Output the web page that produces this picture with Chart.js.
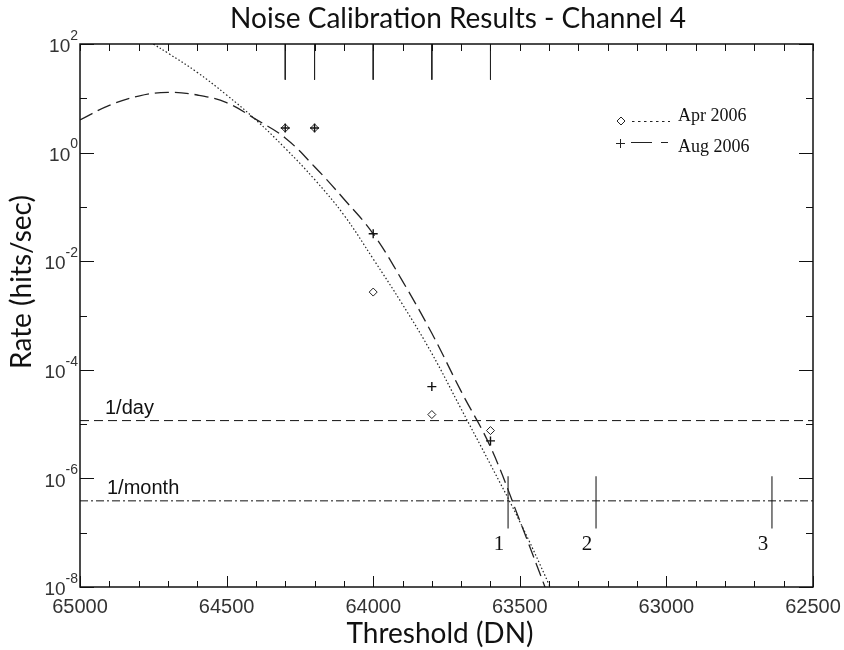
<!DOCTYPE html>
<html>
<head>
<meta charset="utf-8">
<script src="https://cdn.jsdelivr.net/npm/chart.js@4.4.1/dist/chart.umd.min.js"></script>
<style>
  html, body { margin: 0; padding: 0; background: #fff; }
</style>
</head>
<body>
<canvas id="noise" width="844" height="650"></canvas>
<script>
// measured thresholds and noise rates
const thresholds = [64300, 64200, 64000, 63800, 63600];
const aprRate = [2.84, 2.84, 2.7e-3, 1.5e-5, 7.6e-6];
const augRate = [2.84, 2.84, 3.2e-2, 4.9e-5, 4.9e-6];

// fitted curves
const aprFitX = [64750, 64700, 64600, 64500, 64400, 64300, 64200, 64100, 64000, 63900, 63800, 63700, 63600, 63500, 63400, 63350];
const aprFitRate = [100, 68, 30, 11.5, 4.0, 1.2, 0.32, 0.071, 0.011, 1.6e-3, 2.0e-4, 1.9e-5, 1.8e-6, 1.6e-7, 1.1e-8, 2.5e-9];
const augFitX = [65000, 64900, 64800, 64700, 64600, 64500, 64400, 64300, 64200, 64100, 64000, 63900, 63800, 63700, 63600, 63500, 63400];
const augFitRate = [4.0, 7.4, 11.0, 12.9, 11.5, 8.3, 4.1, 1.86, 0.55, 0.14, 0.032, 4.3e-3, 4.7e-4, 4.0e-5, 3.8e-6, 1.66e-7, 6.3e-9];

// reference levels
const perDay = 1.16e-5;
const perMonth = 3.86e-7;

// numbered markers
const markerX = [63540, 63240, 62640];
const markerLabels = ['1', '2', '3'];
const markerLow = 1.2e-7;
const markerHigh = 1.1e-6;

// rug marks at the top
const rugTop = 100;
const rugBottom = 22;

// axis ticks
const xTicks = [65000, 64500, 64000, 63500, 63000, 62500];
const yExponents = [2, 0, -2, -4, -6, -8];

function pairs(xs, ys) {
    return xs.map(function (v, i) { return { x: v, y: ys[i] }; });
}

function segments(xs, lo, hi) {
    const out = [];
    xs.forEach(function (v) {
        out.push({ x: v, y: hi }, { x: v, y: lo }, { x: v, y: null });
    });
    return out;
}

function line(ctx, x1, y1, x2, y2) {
    ctx.beginPath();
    ctx.moveTo(x1, y1);
    ctx.lineTo(x2, y2);
    ctx.stroke();
}

const decor = {
    id: 'decor',
    beforeDraw(chart) {
        const ctx = chart.ctx;
        ctx.save();
        ctx.fillStyle = '#fff';
        ctx.fillRect(0, 0, chart.width, chart.height);
        ctx.restore();
    },
    afterDraw(chart) {
        const ctx = chart.ctx;
        const a = chart.chartArea;
        const x = chart.scales.x, y = chart.scales.y;
        ctx.save();
        ctx.strokeStyle = '#111';
        ctx.lineWidth = 1;
        ctx.setLineDash([]);

        // x ticks, inward, top and bottom
        for (let v = 62500; v <= 65000; v += 100) {
            const px = Math.round(x.getPixelForValue(v)) + 0.5;
            line(ctx, px, a.bottom, px, a.bottom - (v % 500 === 0 ? 11 : 6));
            line(ctx, px, a.top, px, a.top + 7);
        }
        // y ticks, inward, left and right
        for (let e = -8; e <= 2; e++) {
            const py = Math.round(y.getPixelForValue(Math.pow(10, e))) + 0.5;
            const len = e % 2 === 0 ? 14 : 7;
            line(ctx, a.left, py, a.left + len, py);
            line(ctx, a.right, py, a.right - len, py);
        }
        // frame
        ctx.lineWidth = 1.5;
        ctx.strokeRect(a.left, a.top, a.right - a.left, a.bottom - a.top);

        // x tick labels
        ctx.fillStyle = '#333';
        ctx.font = '20px "Liberation Sans"';
        ctx.textAlign = 'center';
        ctx.textBaseline = 'top';
        xTicks.forEach(function (v) {
            ctx.fillText(String(v), x.getPixelForValue(v), a.bottom + 10);
        });
        // y tick labels 10^n, right edge near the axis
        yExponents.forEach(function (e) {
            const py = y.getPixelForValue(Math.pow(10, e));
            const sup = e < 0 ? '-' + (-e) : String(e);
            ctx.font = '14px "Liberation Sans"';
            const w = ctx.measureText(sup).width;
            const right = a.left - 2;
            ctx.textAlign = 'left';
            ctx.textBaseline = 'middle';
            ctx.fillText(sup, right - w, py - 8);
            ctx.font = '19px "Liberation Sans"';
            ctx.textAlign = 'right';
            ctx.fillText('10', right - w, py + 3);
        });

        // titles
        ctx.fillStyle = '#111';
        ctx.textAlign = 'center';
        ctx.textBaseline = 'middle';
        ctx.font = '28px Lato';
        ctx.fillText('Noise Calibration Results - Channel 4', 458, 19);
        ctx.fillText('Threshold (DN)', 440, 634);
        ctx.save();
        ctx.translate(22, 282);
        ctx.rotate(-Math.PI / 2);
        ctx.fillText('Rate (hits/sec)', 0, 0);
        ctx.restore();

        // reference level labels
        ctx.font = '20px "Liberation Sans"';
        ctx.textAlign = 'left';
        ctx.textBaseline = 'alphabetic';
        ctx.fillText('1/day', 105, y.getPixelForValue(perDay) - 7);
        ctx.fillText('1/month', 107, y.getPixelForValue(perMonth) - 7);

        // marker numbers
        ctx.font = '21px "Liberation Serif"';
        ctx.textAlign = 'center';
        ctx.textBaseline = 'alphabetic';
        markerX.forEach(function (v, i) {
            ctx.fillText(markerLabels[i], x.getPixelForValue(v) - 9, 550);
        });

        // legend
        ctx.lineWidth = 1;
        ctx.strokeStyle = '#222';
        ctx.beginPath();
        ctx.moveTo(621, 117); ctx.lineTo(625, 121); ctx.lineTo(621, 125); ctx.lineTo(617, 121); ctx.closePath();
        ctx.stroke();
        ctx.setLineDash([2.5, 3.5]);
        line(ctx, 632, 121.5, 670, 121.5);
        ctx.setLineDash([]);
        line(ctx, 616, 143.5, 625, 143.5);
        line(ctx, 620.5, 139, 620.5, 148);
        line(ctx, 631, 142.5, 652, 142.5);
        line(ctx, 661, 142.5, 668, 142.5);
        ctx.fillStyle = '#111';
        ctx.font = '18px "Liberation Serif"';
        ctx.textAlign = 'left';
        ctx.fillText('Apr 2006', 678, 121);
        ctx.fillText('Aug 2006', 678, 152);
        ctx.restore();
    }
};

const ctx = document.getElementById('noise').getContext('2d');

new Chart(ctx, {
    type: 'scatter',
    data: {
        datasets: [
            {
                label: 'Aug 2006',
                data: pairs(thresholds, augRate),
                pointStyle: 'cross',
                pointRadius: 4.5,
                borderColor: '#111',
                borderWidth: 1.4,
                showLine: false,
                order: 0
            },
            {
                label: 'Apr 2006',
                data: pairs(thresholds, aprRate),
                pointStyle: 'rectRot',
                pointRadius: 4,
                borderColor: '#222',
                backgroundColor: '#fff',
                borderWidth: 1,
                showLine: false,
                order: 1
            },
            {
                label: 'Apr fit',
                data: pairs(aprFitX, aprFitRate),
                showLine: true,
                pointRadius: 0,
                borderColor: '#222',
                borderWidth: 1.2,
                borderDash: [1.5, 2.2],
                tension: 0.4,
                order: 2
            },
            {
                label: 'Aug fit',
                data: pairs(augFitX, augFitRate),
                showLine: true,
                pointRadius: 0,
                borderColor: '#222',
                borderWidth: 1.3,
                borderDash: [14, 6],
                tension: 0.4,
                order: 3
            },
            {
                label: '1/day',
                data: [{ x: 65000, y: perDay }, { x: 62500, y: perDay }],
                showLine: true,
                pointRadius: 0,
                borderColor: '#111',
                borderWidth: 1,
                borderDash: [9, 5],
                order: 4
            },
            {
                label: '1/month',
                data: [{ x: 65000, y: perMonth }, { x: 62500, y: perMonth }],
                showLine: true,
                pointRadius: 0,
                borderColor: '#111',
                borderWidth: 1,
                borderDash: [8, 3, 2, 3],
                order: 5
            },
            {
                label: 'markers',
                data: segments(markerX, markerLow, markerHigh),
                showLine: true,
                spanGaps: false,
                pointRadius: 0,
                borderColor: '#333',
                borderWidth: 1.2,
                order: 6
            },
            {
                label: 'rug',
                data: segments(thresholds, rugBottom, rugTop),
                showLine: true,
                spanGaps: false,
                pointRadius: 0,
                borderColor: '#222',
                borderWidth: 1,
                order: 7
            }
        ]
    },
    options: {
        responsive: false,
        animation: false,
        layout: { padding: { left: 80, right: 31, top: 44, bottom: 63 } },
        plugins: {
            legend: { display: false },
            tooltip: { enabled: false }
        },
        scales: {
            x: { type: 'linear', reverse: true, min: 62500, max: 65000, display: false },
            y: { type: 'logarithmic', min: 1e-8, max: 100, display: false }
        }
    },
    plugins: [decor]
});
</script>
</body>
</html>
